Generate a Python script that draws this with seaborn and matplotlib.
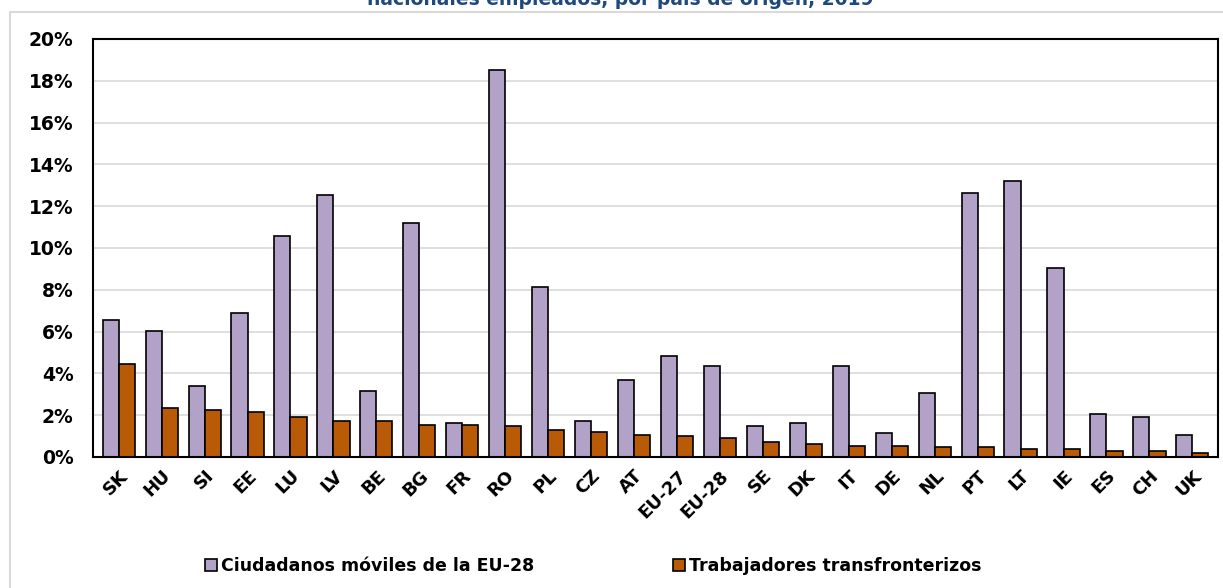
import pandas as pd
import matplotlib.pyplot as plt
import seaborn as sns
from matplotlib.lines import Line2D
from matplotlib.ticker import FuncFormatter

# Datos: % sobre nacionales empleados, por país de origen, 2019
paises = ['SK', 'HU', 'SI', 'EE', 'LU', 'LV', 'BE', 'BG', 'FR', 'RO', 'PL', 'CZ', 'AT',
          'EU-27', 'EU-28', 'SE', 'DK', 'IT', 'DE', 'NL', 'PT', 'LT', 'IE', 'ES', 'CH', 'UK']
moviles = [6.55, 6.03, 3.40, 6.89, 10.57, 12.54, 3.16, 11.20, 1.63, 18.52, 8.13, 1.72, 3.68,
           4.83, 4.35, 1.48, 1.63, 4.35, 1.15, 3.06, 12.63, 13.20, 9.04, 2.06, 1.91, 1.05]
transfronterizos = [4.45, 2.34, 2.25, 2.15, 1.91, 1.72, 1.72, 1.53, 1.53, 1.48, 1.29, 1.20, 1.05,
                    1.00, 0.90, 0.72, 0.62, 0.53, 0.53, 0.48, 0.48, 0.38, 0.38, 0.29, 0.29, 0.19]
series = ['Ciudadanos móviles de la EU-28', 'Trabajadores transfronterizos']

df = pd.DataFrame({
    'pais': paises * 2,
    'valor': moviles + transfronterizos,
    'serie': [series[0]] * len(paises) + [series[1]] * len(paises),
})

sns.set_theme(style='white')
plt.rcParams['font.family'] = ['DejaVu Sans']
plt.rcParams['text.color'] = 'black'
plt.rcParams['xtick.color'] = 'black'
plt.rcParams['ytick.color'] = 'black'

fig = plt.figure(figsize=(12.23, 5.88), dpi=100)
ax = fig.add_axes([0.076, 0.2228, 0.92, 0.7109])

sns.barplot(data=df, x='pais', y='valor', hue='serie', order=paises, hue_order=series,
            palette=['#B3A2C7', '#B85A06'], edgecolor='black', linewidth=1.2,
            width=0.75, saturation=1, ax=ax, legend=True)

ax.set_ylim(0, 20)
ax.set_yticks(range(0, 21, 2))
ax.yaxis.set_major_formatter(FuncFormatter(lambda v, p: f'{v:.0f}%'))
ax.set_xlim(-0.6, len(paises) - 0.4)
ax.grid(axis='y', color='#D9D9D9', linewidth=1.2)
ax.set_axisbelow(True)
for s in ax.spines.values():
    s.set_visible(True)
    s.set_color('black')
    s.set_linewidth(1.5)
ax.set_xlabel('')
ax.set_ylabel('')
ax.tick_params(axis='y', length=0, pad=14, labelsize=13.5, labelcolor='black')
ax.tick_params(axis='x', length=0, pad=7, labelsize=13, labelcolor='black')
for t in ax.get_yticklabels():
    t.set_fontweight('bold')
for t in ax.get_xticklabels():
    t.set_fontweight('bold')
    t.set_rotation(45)
    t.set_ha('right')
    t.set_rotation_mode('anchor')

# leyenda abajo
handles, labels = ax.get_legend_handles_labels()
ax.get_legend().remove()
leg = fig.legend(handles, labels, loc='center', bbox_to_anchor=(0.485, 0.037), ncol=2,
                 frameon=False, handlelength=0.7, handleheight=0.7, handletextpad=0.2,
                 columnspacing=8, prop={'weight': 'bold', 'size': 12.5})
for t in leg.get_texts():
    t.set_color('black')

# título (cortado arriba, como en el original)
fig.text(0.507, 0.9915, 'nacionales empleados, por país de origen, 2019', ha='center',
         va='baseline', fontsize=13.5, fontweight='bold', color='#1F497D')

# marco gris del gráfico
fig.add_artist(Line2D([10 / 1223, 1.0], [1 - 12 / 588, 1 - 12 / 588], color='#D9D9D9', lw=1.5))
fig.add_artist(Line2D([10 / 1223, 10 / 1223], [0, 1 - 12 / 588], color='#D9D9D9', lw=1.5))

fig.savefig('out.png', dpi=100)
